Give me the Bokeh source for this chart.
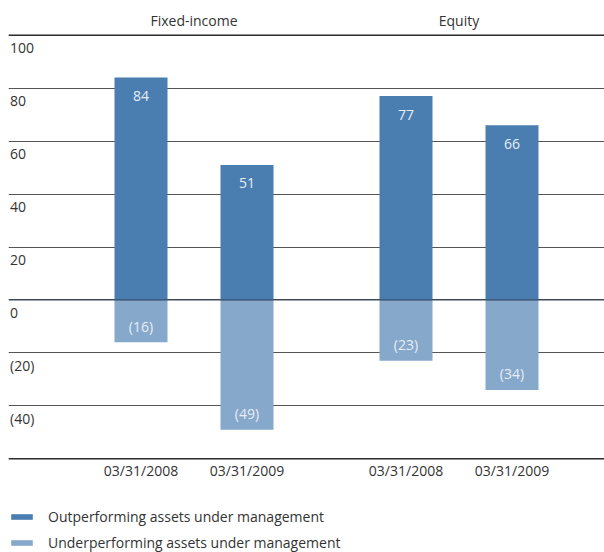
from bokeh.plotting import figure
from bokeh.models import (Range1d, FixedTicker, Legend, LegendItem,
                          ColumnDataSource, Span, Grid)
from bokeh.core.properties import value
from bokeh.embed import file_html
from bokeh.resources import INLINE

# ---- data ----
groups = ["Fixed-income", "Equity"]
dates = ["03/31/2008", "03/31/2009"]
outperforming = [84, 51, 77, 66]
underperforming = [-16, -49, -23, -34]
y_ticks = [100, 80, 60, 40, 20, 0, -20, -40, -60]
y_tick_labels = ["100", "80", "60", "40", "20", "0", "(20)", "(40)", ""]
series_names = ["Outperforming assets under management",
                "Underperforming assets under management"]

# ---- style ----
DARK = "#4a7eb0"
LIGHT = "#86a8cb"
FONT = "Open Sans"
TXT = "#333333"
INBAR = "#e6edf5"

# category positions (in bar-width units)
xs, date_labels = [], []
for gi, g in enumerate(groups):
    for di, d in enumerate(dates):
        xs.append(gi * 5 + di * 2)
        date_labels.append(d)
group_x = [(xs[2 * i] + xs[2 * i + 1]) / 2 for i in range(len(groups))]

p = figure(frame_width=596, frame_height=552,
           x_range=Range1d(-2.5, -2.5 + 596 / 53),
           y_range=Range1d(-95.39, 113.11),
           output_backend="svg", toolbar_location=None,
           x_axis_location=None, y_axis_location=None,
           min_border=0, min_border_left=8, outline_line_color=None,
           background_fill_color="white", border_fill_color="white")
p.grid.grid_line_color = None
p.grid.visible = False

p.add_layout(Grid(dimension=1, ticker=FixedTicker(ticks=y_ticks),
                  grid_line_color="#555555", grid_line_width=1.2))
for loc in (y_ticks[0], y_ticks[-1]):
    p.add_layout(Span(location=loc, dimension="width", line_color="#222222",
                      line_width=1.2, level="underlay"))

src = ColumnDataSource(dict(x=xs, out=outperforming, under=underperforming,
                            out_lbl=[str(v) for v in outperforming],
                            under_lbl=["(%d)" % abs(v) for v in underperforming],
                            date=date_labels))

r_out = p.vbar(x="x", top="out", bottom=0, width=1, source=src,
               fill_color=DARK, line_color=None)
r_under = p.vbar(x="x", top=0, bottom="under", width=1, source=src,
                 fill_color=LIGHT, line_color=None)

p.add_layout(Span(location=0, dimension="width", line_color="#2b3f55",
                  line_width=1, level="overlay"))

# values in bars
p.text(x="x", y="out", text="out_lbl", source=src, y_offset=18.5,
       text_align="center", text_baseline="middle", text_font=value(FONT),
       text_font_size="14px", text_color=INBAR)
p.text(x="x", y="under", text="under_lbl", source=src, y_offset=-16,
       text_align="center", text_baseline="middle", text_font=value(FONT),
       text_font_size="14px", text_color=INBAR)

# date labels under the bottom line
p.text(x="x", y=y_ticks[-1], text="date", source=src, y_offset=12,
       text_align="center", text_baseline="middle", text_font=value(FONT),
       text_font_size="14px", text_color=TXT)

# group labels above top line
p.text(x=group_x, y=[y_ticks[0]] * len(groups), text=groups, y_offset=-14.7,
       text_align="center", text_baseline="middle", text_font=value(FONT),
       text_font_size="14px", text_color=TXT)

# y tick labels (inside the plot, below each line)
lbl_idx = [i for i, t in enumerate(y_tick_labels) if t]
p.text(x=[p.x_range.start] * len(lbl_idx), y=[y_ticks[i] for i in lbl_idx],
       text=[y_tick_labels[i] for i in lbl_idx], x_offset=1.5, y_offset=13,
       text_align="left", text_baseline="middle", text_font=value(FONT),
       text_font_size="14px", text_color=TXT)

legend = Legend(items=[LegendItem(label=series_names[0], renderers=[r_out]),
                       LegendItem(label=series_names[1], renderers=[r_under])],
                location=(0, 0), orientation="vertical",
                glyph_width=27, glyph_height=7, label_standoff=13,
                label_height=20, spacing=6, padding=0, margin=0,
                border_line_color=None, background_fill_alpha=0,
                label_text_font=FONT, label_text_font_size="14px",
                label_text_color=TXT)
p.add_layout(legend)

open("out.html", "w").write(file_html(p, INLINE))
